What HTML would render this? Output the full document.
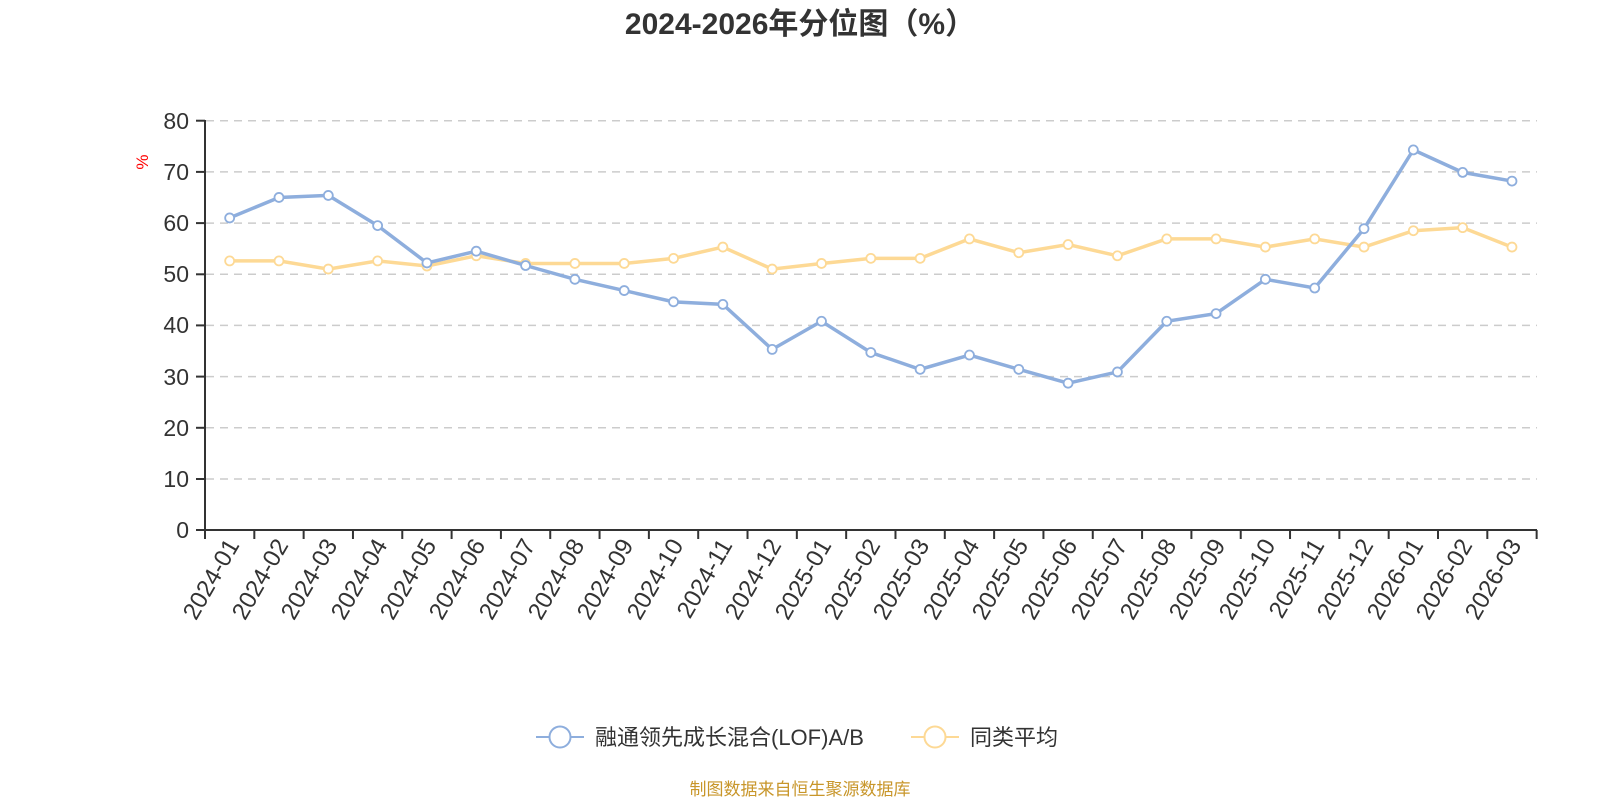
<!DOCTYPE html>
<html><head><meta charset="utf-8"><style>
body{margin:0;background:#fff;width:1600px;height:800px;overflow:hidden}
text{font-family:"Liberation Sans","Noto Sans CJK SC",sans-serif}
</style></head><body>
<svg id="s" width="1600" height="800" xmlns="http://www.w3.org/2000/svg">
<text x="800" y="34" text-anchor="middle" font-size="30" font-weight="bold" fill="#333">2024-2026年分位图（%）</text>
<g stroke="#ccc" stroke-width="1.5" stroke-dasharray="8,6">
<line x1="206" x2="1537" y1="120.7" y2="120.7"/><line x1="206" x2="1537" y1="171.9" y2="171.9"/>
<line x1="206" x2="1537" y1="223.1" y2="223.1"/><line x1="206" x2="1537" y1="274.3" y2="274.3"/>
<line x1="206" x2="1537" y1="325.4" y2="325.4"/><line x1="206" x2="1537" y1="376.6" y2="376.6"/>
<line x1="206" x2="1537" y1="427.8" y2="427.8"/><line x1="206" x2="1537" y1="479" y2="479"/>
</g>
<g font-size="23" fill="#333" text-anchor="end">
<text x="189" y="129">80</text><text x="189" y="180">70</text><text x="189" y="231">60</text><text x="189" y="282">50</text>
<text x="189" y="333">40</text><text x="189" y="385">30</text><text x="189" y="436">20</text><text x="189" y="487">10</text><text x="189" y="538">0</text>
</g>
<text x="148" y="162" font-size="17" fill="red" transform="rotate(-90 148 162)" text-anchor="middle">%</text>
<g stroke="#333" stroke-width="2">
<line x1="205" x2="205" y1="120" y2="531"/><line x1="196" x2="205" y1="120.7" y2="120.7"/>
<line x1="196" x2="205" y1="171.9" y2="171.9"/><line x1="196" x2="205" y1="223.1" y2="223.1"/>
<line x1="196" x2="205" y1="274.3" y2="274.3"/><line x1="196" x2="205" y1="325.4" y2="325.4"/>
<line x1="196" x2="205" y1="376.6" y2="376.6"/><line x1="196" x2="205" y1="427.8" y2="427.8"/>
<line x1="196" x2="205" y1="479" y2="479"/><line x1="196" x2="205" y1="530" y2="530"/>
<line x1="205" x2="1537" y1="530" y2="530"/>
</g>
<g id="ticks" stroke="#333" stroke-width="2"></g>
<g font-size="24" fill="#333" text-anchor="end">
<text transform="translate(240,545) rotate(-60)">2024-01</text>
<text transform="translate(289,545) rotate(-60)">2024-02</text>
<text transform="translate(338,545) rotate(-60)">2024-03</text>
<text transform="translate(388,545) rotate(-60)">2024-04</text>
<text transform="translate(437,545) rotate(-60)">2024-05</text>
<text transform="translate(486,545) rotate(-60)">2024-06</text>
<text transform="translate(536,545) rotate(-60)">2024-07</text>
<text transform="translate(585,545) rotate(-60)">2024-08</text>
<text transform="translate(634,545) rotate(-60)">2024-09</text>
<text transform="translate(684,545) rotate(-60)">2024-10</text>
<text transform="translate(733,545) rotate(-60)">2024-11</text>
<text transform="translate(782,545) rotate(-60)">2024-12</text>
<text transform="translate(832,545) rotate(-60)">2025-01</text>
<text transform="translate(881,545) rotate(-60)">2025-02</text>
<text transform="translate(930,545) rotate(-60)">2025-03</text>
<text transform="translate(980,545) rotate(-60)">2025-04</text>
<text transform="translate(1029,545) rotate(-60)">2025-05</text>
<text transform="translate(1078,545) rotate(-60)">2025-06</text>
<text transform="translate(1128,545) rotate(-60)">2025-07</text>
<text transform="translate(1177,545) rotate(-60)">2025-08</text>
<text transform="translate(1226,545) rotate(-60)">2025-09</text>
<text transform="translate(1276,545) rotate(-60)">2025-10</text>
<text transform="translate(1325,545) rotate(-60)">2025-11</text>
<text transform="translate(1374,545) rotate(-60)">2025-12</text>
<text transform="translate(1424,545) rotate(-60)">2026-01</text>
<text transform="translate(1473,545) rotate(-60)">2026-02</text>
<text transform="translate(1522,545) rotate(-60)">2026-03</text>
</g>
<g id="series"></g>
<line x1="536" x2="584" y1="737" y2="737" stroke="#8eaedd" stroke-width="2"/>
<circle cx="560" cy="737" r="10.5" fill="#fff" stroke="#8eaedd" stroke-width="2"/>
<text x="595" y="745" font-size="22" fill="#333">融通领先成长混合(LOF)A/B</text>
<line x1="911" x2="959" y1="737" y2="737" stroke="#fdd995" stroke-width="2"/>
<circle cx="935" cy="737" r="10.5" fill="#fff" stroke="#fdd995" stroke-width="2"/>
<text x="970" y="745" font-size="22" fill="#333">同类平均</text>
<text x="800" y="795" text-anchor="middle" font-size="17" fill="#c8962a">制图数据来自恒生聚源数据库</text>
</svg>
<script>
var a=[61,65,65.4,59.5,52.2,54.5,51.7,49,46.8,44.6,44.1,35.3,40.8,34.7,31.4,34.2,31.4,28.7,30.9,40.8,42.3,49,47.3,58.9,74.3,69.9,68.2];
var b=[52.6,52.6,51,52.6,51.6,53.6,52.1,52.1,52.1,53.1,55.3,51,52.1,53.1,53.1,56.9,54.2,55.8,53.6,56.9,56.9,55.3,56.9,55.3,58.5,59.1,55.3];
var g=document.getElementById('series'),ns='http://www.w3.org/2000/svg',t=document.getElementById('ticks');
for(var i=0;i<=27;i++){var x=205+49.32*i,l=document.createElementNS(ns,'line');l.setAttribute('x1',x);l.setAttribute('x2',x);l.setAttribute('y1',530);l.setAttribute('y2',539);t.appendChild(l);}
function draw(d,c){var p=d.map(function(v,i){return [205+49.32*(i+0.5),530-v*5.116]});
var l=document.createElementNS(ns,'polyline');l.setAttribute('points',p.map(function(q){return q.join(',')}).join(' '));
l.setAttribute('fill','none');l.setAttribute('stroke',c);l.setAttribute('stroke-width','3.5');g.appendChild(l);
p.forEach(function(q){var e=document.createElementNS(ns,'circle');e.setAttribute('cx',q[0]);e.setAttribute('cy',q[1]);e.setAttribute('r',4.5);e.setAttribute('fill','#fff');e.setAttribute('stroke',c);e.setAttribute('stroke-width','1.8');g.appendChild(e);});}
draw(b,'#fdd995');draw(a,'#8eaedd');
</script>
</body></html>
